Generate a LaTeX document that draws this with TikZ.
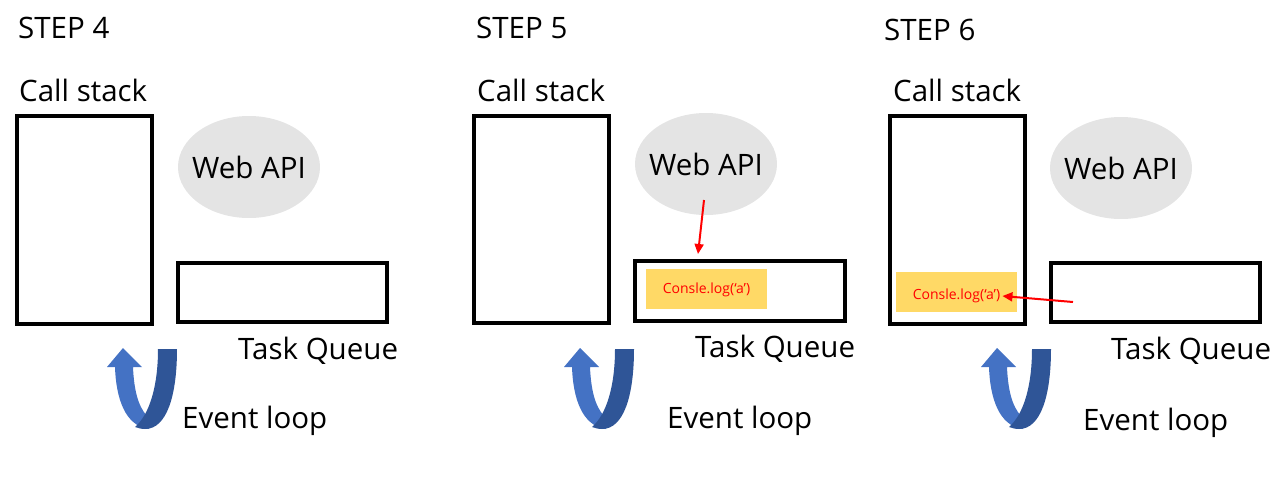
\documentclass[tikz,border=0pt]{standalone}
\usepackage{fontspec}
\setmainfont{Open Sans}
\usetikzlibrary{shapes.geometric,arrows.meta}
\definecolor{apigrey}{HTML}{E4E4E4}
\definecolor{loopdark}{HTML}{2F5597}
\definecolor{looplight}{HTML}{4472C4}
\definecolor{logfill}{HTML}{FFD966}
\definecolor{logred}{HTML}{FF0000}
\begin{document}
\begin{tikzpicture}[x=1pt,y=-1pt,
  lbl/.style={inner sep=0pt,anchor=west,font=\fontsize{29.5}{32}\selectfont},
  stackbox/.style={draw=black,line width=4.3pt,inner sep=0pt},
  webapi/.style={ellipse,fill=apigrey,minimum width=142pt,minimum height=102pt,inner sep=0pt},
  apitxt/.style={inner sep=0pt,font=\fontsize{29.5}{32}\selectfont},
  logbox/.style={fill=logfill,inner sep=0pt},
  logtxt/.style={text=logred,inner sep=0pt,font=\fontsize{14}{16}\selectfont},
  redarrow/.style={draw=logred,line width=2pt,-{Triangle[length=10pt,width=9pt]}}]
\useasboundingbox (0,0) rectangle (1286,493);

% curved event-loop arrow, origin at its upper-left corner
\newcommand{\looparrow}[2]{%
  \begin{scope}[shift={(#1,#2)}]
    \fill[looplight] (0,19) -- (16,0) -- (35,19) -- (26,19)
      .. controls (27,42) and (31,58) .. (40,68) -- (42,81)
      .. controls (18,78) and (9,50) .. (8,19) -- cycle;
    \fill[loopdark] (51,1) -- (70,1)
      .. controls (70,47) and (60,81) .. (38,81)
      .. controls (34,81) and (31,80) .. (28,79)
      .. controls (43,66) and (51,37) .. (51,1) -- cycle;
  \end{scope}}

% ---------- STEP 4 ----------
\node[lbl] (t4) at (18,28) {STEP 4};
\node[lbl] (cs4) at (19,90) {Call stack};
\node[stackbox,minimum width=135pt,minimum height=208pt] (s4) at (84.5,220) {};
\node[webapi] (w4) at (249,167) {};
\node[apitxt] at (w4.center) {Web API};
\node[stackbox,minimum width=209pt,minimum height=59pt] (q4) at (282.5,292.5) {};
\node[lbl] (tq4) at (238,351) {Task Queue};
\looparrow{107}{348}
\node[lbl] (el4) at (182,421) {Event loop};

% ---------- STEP 5 ----------
\node[lbl] (t5) at (476,28) {STEP 5};
\node[lbl] (cs5) at (477,90) {Call stack};
\node[stackbox,minimum width=135pt,minimum height=207pt] (s5) at (541.5,219.5) {};
\node[webapi] (w5) at (706,164) {};
\node[apitxt] at (w5.center) {Web API};
\node[stackbox,minimum width=210pt,minimum height=60pt] (q5) at (740,291) {};
\node[logbox,minimum width=121pt,minimum height=40pt] (l5) at (706.5,289) {};
\node[logtxt] (c5) at (706.5,290) {Consle.log(‘a’)};
\node[lbl] (tq5) at (695,349) {Task Queue};
\looparrow{564}{348}
\node[lbl] (el5) at (667,421) {Event loop};
\coordinate (a5s) at (704,200);
\coordinate (a5e) at (698,254);
\draw[redarrow] (a5s) -- (a5e);

% ---------- STEP 6 ----------
\node[lbl] (t6) at (884,30) {STEP 6};
\node[lbl] (cs6) at (893,90) {Call stack};
\node[stackbox,minimum width=135pt,minimum height=208pt] (s6) at (957.5,220) {};
\node[webapi] (w6) at (1121,168) {};
\node[apitxt] at (w6.center) {Web API};
\node[stackbox,minimum width=209pt,minimum height=59pt] (q6) at (1155.5,292.5) {};
\node[logbox,minimum width=121pt,minimum height=40pt] (l6) at (956.5,292) {};
\node[logtxt] (c6) at (956.5,296) {Consle.log(‘a’)};
\node[lbl] (tq6) at (1111,351) {Task Queue};
\looparrow{981}{348}
\node[lbl] (el6) at (1083,423) {Event loop};
\coordinate (a6s) at (1073,302);
\draw[redarrow] (a6s) -- ([xshift=2pt]c6.east);
\end{tikzpicture}
\end{document}
